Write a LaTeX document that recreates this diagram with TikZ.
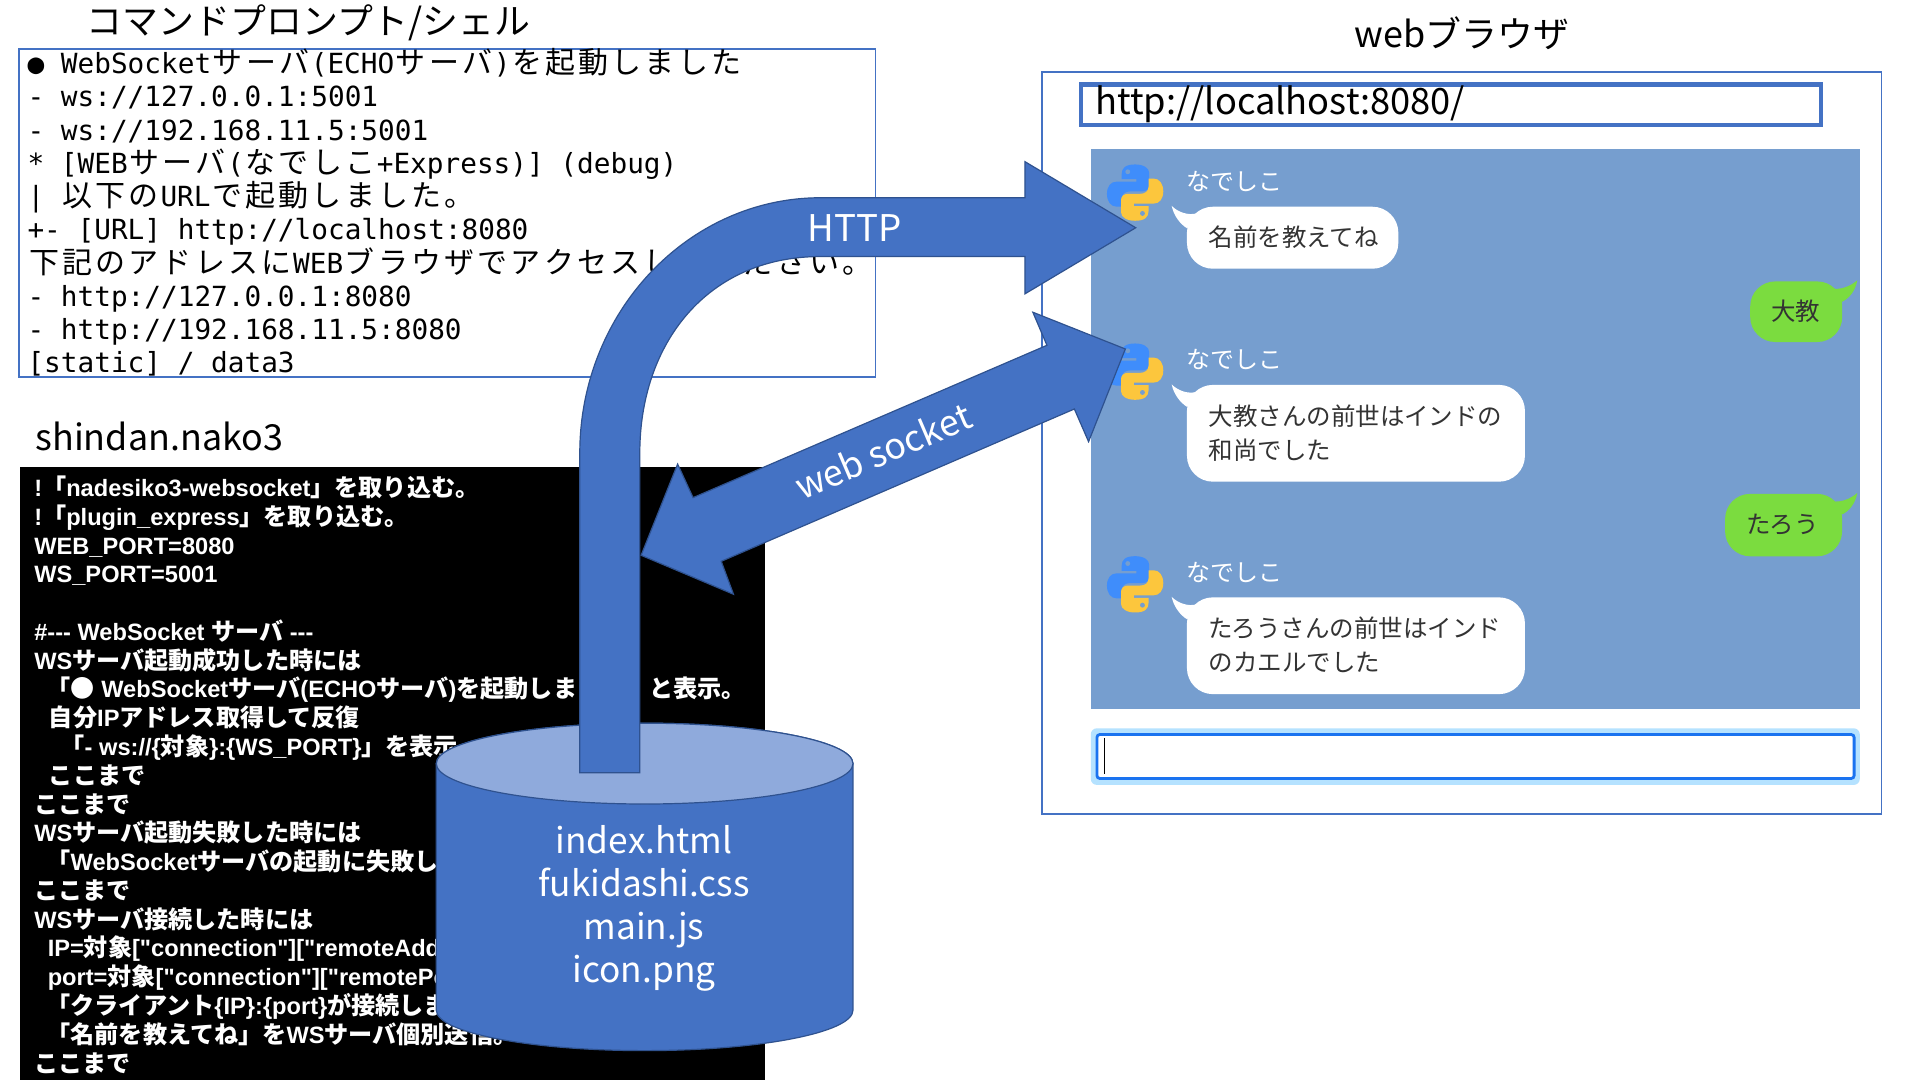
\documentclass[tikz,border=0pt]{standalone}
\usepackage{fontspec}
\newfontfamily\jp{Noto Sans CJK JP}
\newfontfamily\lat{Liberation Sans}
\newfontfamily\mono{DejaVu Sans Mono}
\newcommand\fsz[1]{\fontsize{\fpeval{#1*0.61224}pt}{\fpeval{#1*0.7}pt}\selectfont}
\makeatletter
\newcommand\J[1]{\J@#1\relax}
\def\J@#1{\ifx#1\relax\else\makebox[16.6pt][c]{\jp\fsz{24.5}#1}\expandafter\J@\fi}
\makeatother
\newcommand\C[1]{{\jp\bfseries\fsz{19.7}#1}}
\definecolor{ppblue}{HTML}{4472C4}
\definecolor{ppdark}{HTML}{2F528F}
\definecolor{pptop}{HTML}{8FAADC}
\definecolor{panel}{HTML}{769ECF}
\definecolor{lgreen}{HTML}{7BDC3F}
\definecolor{pyblue}{HTML}{3F8DFB}
\definecolor{pyyel}{HTML}{FCC63D}
\definecolor{ink}{HTML}{333333}
\definecolor{glow}{HTML}{B5E2FF}
\definecolor{focus}{HTML}{1A73F0}
\tikzset{
  x=0.61224pt,y=-0.61224pt,
  txt/.style={inner sep=0pt,outer sep=0pt},
  cmdline/.style={txt,anchor=base west,font=\mono\fsz{22.65},black},
  codeline/.style={txt,anchor=base west,font=\lat\bfseries\fsz{19.3},white},
  title/.style={txt,font=\jp\fsz{29.3},black},
  blockarrow/.style={fill=ppblue,draw=ppdark,line width=0.6pt},
  dbtext/.style={txt,anchor=base,font=\jp\fsz{28.8},white},
  arrowtext/.style={txt,font=\jp\fsz{30},white},
  wstext/.style={txt,font=\jp\fsz{29.3},white},
  chatname/.style={txt,anchor=west,font=\jp\fsz{19.6},white},
  chattext/.style={txt,anchor=west,font=\jp\fsz{20},ink},
  bubble/.style={fill=white,rounded corners=13pt},
  gbubble/.style={fill=lgreen,rounded corners=12.5pt},
}
\newcommand\pysnake{%
  (0,-23) .. controls (-8,-23) and (-11,-20) .. (-11,-15) -- (-11,-11) -- (1,-11) -- (1,-9) -- (-15,-9)
  .. controls (-20,-9) and (-23,-5) .. (-23,1) .. controls (-23,7) and (-20,11.5) .. (-15,11.5) -- (-11,11.5) -- (-11,5)
  .. controls (-11,1) and (-8,-1) .. (-4,-1) -- (6,-1) .. controls (9,-1) and (11.5,-3) .. (11.5,-6) -- (11.5,-16)
  .. controls (11.5,-20) and (7,-23) .. (0,-23) -- cycle}
\newcommand\pyicon[2]{%
  \begin{scope}[shift={(#1,#2)}]
    \fill[pyblue] \pysnake; \fill[panel] (-6,-17) circle[radius=2];
    \begin{scope}[rotate=180]
      \fill[pyyel] \pysnake; \fill[panel] (-6,-17) circle[radius=2];
    \end{scope}
  \end{scope}}
\newcommand\tailL[1]{\fill[white] (956.9,#1) .. controls (962,#1+5) and (970,#1+8) .. (977.5,#1+6) -- (969.5,#1+18.3) .. controls (964,#1+15) and (958.5,#1+8) .. (956.9,#1) -- cycle;}
\newcommand\tailR[1]{\fill[lgreen] (1516.8,#1) .. controls (1511,#1+5) and (1503,#1+8) .. (1495.9,#1+6.7) -- (1504,#1+17.7) .. controls (1510,#1+15) and (1515,#1+9) .. (1516.8,#1) -- cycle;}
\begin{document}
\begin{tikzpicture}
\useasboundingbox (0,0) rectangle (1568,882);
\fill[white] (0,0) rectangle (1568,882);

% titles
\node[title,anchor=west] (t1) at (71,18.5) {コマンドプロンプト/シェル};
\node[title,anchor=west] (t2) at (29,356.5) {shindan.nako3};
\node[title,anchor=west] (t3) at (1106.5,27.5) {webブラウザ};

% command prompt
\draw[ppblue,line width=0.9pt] (15.5,40) rectangle (715,308);
\node[cmdline] (c1) at (22.5,60) {● WebSocket\J{サーバ}(ECHO\J{サーバ})\J{を起動しました}};
\node[cmdline] (c2) at (22.5,87.2) {- ws://127.0.0.1:5001};
\node[cmdline] (c3) at (22.5,114.4) {- ws://192.168.11.5:5001};
\node[cmdline] (c4) at (22.5,141.6) {* [WEB\J{サーバ}(\J{なでしこ}+Express)] (debug)};
\node[cmdline] (c5) at (22.5,168.6) {| \J{以下の}URL\J{で起動しました。}};
\node[cmdline] (c6) at (22.5,195.8) {+- [URL] http://localhost:8080};
\node[cmdline] (c7) at (22.5,223) {\J{下記のアドレスに}WEB\J{ブラウザでアクセスしてください。}};
\node[cmdline] (c8) at (22.5,250.1) {- http://127.0.0.1:8080};
\node[cmdline] (c9) at (22.5,277.3) {- http://192.168.11.5:8080};
\node[cmdline] (c10) at (22.5,304.5) {[static] / data3};

% code panel
\fill[black] (16.4,381.6) rectangle (625,882);
\begin{scope}
\clip (16.4,381.6) rectangle (625,882);
\node[codeline] (k0) at (28,405.5) {!\C{「}nadesiko3-websocket\C{」を取り込む。}};
\node[codeline] (k1) at (28,429) {!\C{「}plugin\_express\C{」を取り込む。}};
\node[codeline] (k2) at (28,452.5) {WEB\_PORT=8080};
\node[codeline] (k3) at (28,476) {WS\_PORT=5001};
\node[codeline] (k5) at (28,523) {\#--- WebSocket \C{サーバ} ---};
\node[codeline] (k6) at (28,546.5) {WS\C{サーバ起動成功した時には}};
\node[codeline] (k7) at (38,570) {\C{「●} WebSocket\C{サーバ}(ECHO\C{サーバ})\C{を起動しました」と表示。}};
\node[codeline] (k8) at (40,593.5) {\C{自分}IP\C{アドレス取得して反復}};
\node[codeline] (k9) at (49.5,617) {\C{「}- ws://\{\C{対象}\}:\{WS\_PORT\}\C{」を表示。}};
\node[codeline] (k10) at (40,640.5) {\C{ここまで}};
\node[codeline] (k11) at (28,664) {\C{ここまで}};
\node[codeline] (k12) at (28,687.5) {WS\C{サーバ起動失敗した時には}};
\node[codeline] (k13) at (38,711) {\C{「}WebSocket\C{サーバの起動に失敗しました」と表示。}};
\node[codeline] (k14) at (28,734.5) {\C{ここまで}};
\node[codeline] (k15) at (28,758) {WS\C{サーバ接続した時には}};
\node[codeline] (k16) at (39,781.5) {IP=\C{対象}["connection"]["remoteAddress"]};
\node[codeline] (k17) at (39,805) {port=\C{対象}["connection"]["remotePort"]};
\node[codeline] (k18) at (38,828.5) {\C{「クライアント}\{IP\}:\{port\}\C{が接続しました」と表示。}};
\node[codeline] (k19) at (38,852) {\C{「名前を教えてね」を}WS\C{サーバ個別送信。}};
\node[codeline] (k20) at (28,875.5) {\C{ここまで}};
\end{scope}

% browser
\draw[ppblue,line width=0.9pt] (851,58.5) rectangle (1536.5,664.5);
\draw[ppblue,line width=2.1pt] (883,69) rectangle (1487,102);
\node[txt,anchor=west,font=\jp\fsz{29.6}] (url) at (894.5,85.5) {http://localhost:8080/};
\fill[panel] (890.8,121.7) rectangle (1518.8,579.3);

\pyicon{927}{157.3}
\pyicon{927}{303.5}
\pyicon{927}{477.2}
\node[chatname] (n1) at (969.2,148) {なでしこ};
\node[chatname] (n2) at (969.2,293.4) {なでしこ};
\node[chatname] (n3) at (969.2,467.2) {なでしこ};

\tailL{168.2}
\node[bubble,minimum width=105.7pt,minimum height=31pt,anchor=north west] (b1) at (969,168.5) {};
\node[chattext] (b1t) at (987,194) {名前を教えてね};
\tailL{314}
\node[bubble,minimum width=169pt,minimum height=48.4pt,anchor=north west] (b2) at (969,314) {};
\node[chattext] (b2t) at (987,339.7) {大教さんの前世はインドの};
\node[chattext] (b2u) at (987,367.5) {和尚でした};
\tailL{487.5}
\node[bubble,minimum width=169pt,minimum height=48.4pt,anchor=north west] (b3) at (969,487.5) {};
\node[chattext] (b3t) at (987,513.3) {たろうさんの前世はインド};
\node[chattext] (b3u) at (987,541.3) {のカエルでした};

\tailR{228.9}
\node[gbubble,minimum width=46pt,minimum height=30.3pt,anchor=north west] (g1) at (1429,229.5) {};
\node[txt,font=\jp\fsz{20},ink] (g1t) at (1466.5,254.5) {大教};
\tailR{402.6}
\node[gbubble,minimum width=58.5pt,minimum height=31.2pt,anchor=north west] (g2) at (1408.5,403) {};
\node[txt,font=\jp\fsz{20},ink] (g2t) at (1456,428.3) {たろう};

% input
\fill[glow,rounded corners=3pt] (890.8,594.8) rectangle (1518.8,641);
\draw[focus,fill=white,line width=1.4pt,rounded corners=1.5pt] (895.8,599.8) rectangle (1514.2,635.8);
\draw[black,line width=0.7pt] (902,603) -- (902,632);

% cylinder
\path[blockarrow] (356.3,623.6) -- (356.3,825) arc[start angle=180,end angle=0,x radius=170.15,y radius=33] -- (696.6,623.6) arc[start angle=0,end angle=-180,x radius=170.15,y radius=33] -- cycle;
\path[draw=ppdark,line width=0.6pt,fill=pptop] (526.45,623.6) ellipse[x radius=170.15,y radius=33];
\node[dbtext] (d1) at (526,697) {index.html};
\node[dbtext] (d2) at (526,732) {fukidashi.css};
\node[dbtext] (d3) at (526,767.5) {main.js};
\node[dbtext] (d4) at (526,802.5) {icon.png};

% HTTP arrow
\path[blockarrow] (473.5,631) -- (473.5,370) .. controls (473.5,255) and (562,161.5) .. (670,161.5) -- (837,161.5) -- (837,132) -- (927.5,186) -- (837,240) -- (837,209.5) -- (670,209.5) .. controls (578,209.5) and (522.5,280) .. (522.5,370) -- (522.5,631) -- cycle;
\node[arrowtext] (http) at (698,186) {HTTP};

% web socket arrow
\path[blockarrow] (919,285) -- (889,360.7) -- (877.4,334) -- (589,458.4) -- (599,485.3) -- (523.6,453.5) -- (553.4,379) -- (566,406.4) -- (855,282) -- (843.5,255) -- cycle;
\node[wstext,rotate=23.2] (ws) at (721,368) {web socket};
\end{tikzpicture}
\end{document}
